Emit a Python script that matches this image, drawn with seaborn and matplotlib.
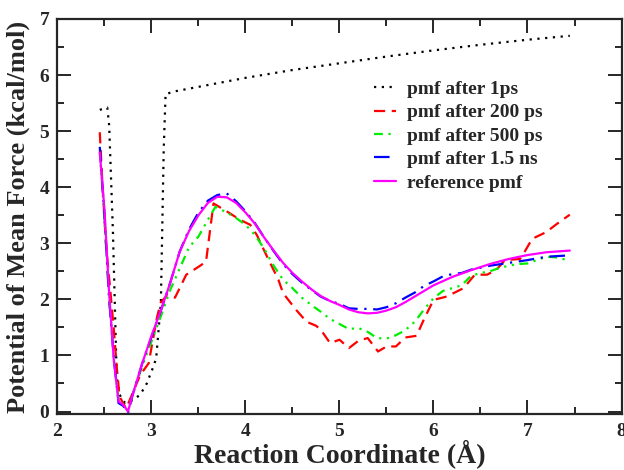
import numpy as np
import pandas as pd
import matplotlib
matplotlib.use("Agg")
import matplotlib.pyplot as plt
from matplotlib.ticker import MultipleLocator
import seaborn as sns

# pmf after 1 ps
x_1ps = [2.45, 2.53, 2.55, 2.59, 2.63, 2.66, 2.72, 2.8, 2.88, 2.95, 3.02, 3.05,
         3.1, 3.13, 3.15, 3.25, 3.5, 4.0, 4.5, 5.0, 5.5, 6.0, 6.5, 7.0, 7.45]
y_1ps = [5.38, 5.42, 5.1, 3.2, 0.62, 0.3, 0.15, 0.2, 0.3, 0.5, 0.8, 0.95,
         1.94, 4.66, 5.66, 5.71, 5.79, 5.95, 6.09, 6.21, 6.33, 6.44, 6.54, 6.63, 6.70]

# pmf after 200 ps
x_200ps = [2.45, 2.48, 2.52, 2.56, 2.6, 2.63, 2.66, 2.73, 2.8, 2.88, 2.97, 3.06,
           3.1, 3.17, 3.25, 3.37, 3.5, 3.58, 3.66, 3.8, 3.94, 4.05, 4.12, 4.23,
           4.35, 4.4, 4.54, 4.65, 4.75, 4.8, 4.9, 5.0, 5.1, 5.2, 5.3, 5.41, 5.5,
           5.6, 5.7, 5.82, 5.9, 6.0, 6.14, 6.32, 6.44, 6.57, 6.67, 6.76, 6.92,
           6.97, 7.05, 7.2, 7.3, 7.45]
y_200ps = [4.98, 4.0, 2.9, 2.2, 1.45, 0.8, 0.27, 0.05, 0.33, 0.65, 0.86, 1.69,
           1.95, 2.08, 2.03, 2.44, 2.58, 2.67, 3.71, 3.57, 3.42, 3.33, 3.15, 2.76,
           2.35, 2.11, 1.81, 1.6, 1.53, 1.46, 1.22, 1.28, 1.13, 1.26, 1.31, 1.07, 1.16,
           1.16, 1.32, 1.35, 1.65, 1.99, 2.05, 2.2, 2.44, 2.44, 2.53, 2.7, 2.72,
           2.85, 3.08, 3.2, 3.33, 3.51]

# pmf after 500 ps
x_500ps = [2.45, 2.5, 2.55, 2.6, 2.65, 2.7, 2.75, 2.8, 2.9, 3.0, 3.1, 3.2, 3.3,
           3.4, 3.5, 3.6, 3.68, 3.8, 3.9, 4.0, 4.1, 4.2, 4.3, 4.4, 4.5, 4.6, 4.7,
           4.8, 4.9, 5.0, 5.1, 5.2, 5.3, 5.4, 5.5, 5.6, 5.7, 5.8, 5.9, 6.0, 6.1,
           6.2, 6.3, 6.4, 6.5, 6.6, 6.7, 6.8, 6.9, 7.0, 7.1, 7.2, 7.3, 7.45]
y_500ps = [4.65, 3.4, 2.0, 0.95, 0.2, 0.12, 0.02, 0.3, 0.8, 1.25, 1.7, 2.17, 2.55,
           2.93, 3.12, 3.42, 3.65, 3.55, 3.45, 3.33, 3.15, 2.9, 2.6, 2.35, 2.2, 2.03, 1.9,
           1.78, 1.65, 1.56, 1.47, 1.49, 1.42, 1.31, 1.3, 1.36, 1.45, 1.6, 1.82, 2.02, 2.15,
           2.2, 2.25, 2.42, 2.47, 2.5, 2.56, 2.6, 2.63, 2.64, 2.7, 2.76, 2.75, 2.69]

# pmf after 1.5 ns
x_15ns = [2.45, 2.5, 2.55, 2.6, 2.65, 2.7, 2.75, 2.8, 2.9, 3.0, 3.1, 3.2, 3.3,
          3.4, 3.5, 3.6, 3.7, 3.8, 3.9, 4.0, 4.1, 4.2, 4.3, 4.4, 4.5, 4.6, 4.7,
          4.8, 4.9, 5.0, 5.1, 5.2, 5.3, 5.4, 5.5, 5.6, 5.7, 5.8, 5.9, 6.0, 6.1,
          6.2, 6.3, 6.4, 6.6, 6.8, 7.0, 7.2, 7.4]
y_15ns = [4.72, 3.5, 2.0, 0.95, 0.15, 0.1, -0.03, 0.3, 0.85, 1.33, 1.8, 2.3, 2.85,
          3.25, 3.55, 3.76, 3.86, 3.89, 3.75, 3.57, 3.36, 3.1, 2.86, 2.63, 2.45, 2.3, 2.17,
          2.05, 1.97, 1.92, 1.84, 1.83, 1.83, 1.82, 1.86, 1.93, 2.03, 2.12, 2.24, 2.32, 2.41,
          2.45, 2.47, 2.53, 2.6, 2.65, 2.7, 2.76, 2.78]

# reference pmf
x_ref = [2.45, 2.5, 2.55, 2.6, 2.65, 2.7, 2.75, 2.8, 2.9, 3.0, 3.1, 3.2, 3.3,
         3.4, 3.5, 3.6, 3.7, 3.8, 3.9, 4.0, 4.1, 4.2, 4.3, 4.4, 4.5, 4.6, 4.7,
         4.8, 4.9, 5.0, 5.1, 5.2, 5.3, 5.4, 5.5, 5.6, 5.7, 5.8, 5.9, 6.0, 6.2,
         6.4, 6.6, 6.8, 7.0, 7.2, 7.45]
y_ref = [4.62, 3.6, 2.1, 0.9, 0.18, 0.12, 0.0, 0.3, 0.85, 1.35, 1.8, 2.3, 2.85,
         3.22, 3.5, 3.72, 3.83, 3.82, 3.72, 3.55, 3.35, 3.1, 2.87, 2.65, 2.47, 2.32, 2.18,
         2.06, 1.97, 1.9, 1.82, 1.77, 1.75, 1.76, 1.8, 1.86, 1.95, 2.05, 2.15, 2.25, 2.4,
         2.52, 2.63, 2.72, 2.79, 2.84, 2.87]

labels = ["pmf after 1ps", "pmf after 200 ps", "pmf after 500 ps",
          "pmf after 1.5 ns", "reference pmf"]

sns.set_theme(style="ticks")
plt.rcParams.update({
    "font.family": ["Liberation Serif", "DejaVu Serif"],
    "font.weight": "bold",
    "axes.labelweight": "bold",
    "axes.linewidth": 1.6,
})

fig = plt.figure(figsize=(6.24, 4.70), dpi=100)
ax = fig.add_axes([0.0921, 0.1185, 0.9039, 0.8411])

series = [
    (x_1ps, y_1ps, "black", (0, (1, 2.5)), 1.6),
    (x_200ps, y_200ps, "#ff0000", (0, (5, 3)), 1.6),
    (x_500ps, y_500ps, "#00ee00", (0, (4, 2.5, 1, 2.5, 1, 2.5)), 1.6),
    (x_15ns, y_15ns, "#0000ff", (0, (7, 3, 1, 3)), 1.6),
    (x_ref, y_ref, "#ff00ff", "-", 1.6),
]
for (xs, ys, c, ls, lw), lab in zip(series, labels):
    sns.lineplot(x=xs, y=ys, ax=ax, color=c, linestyle=ls, linewidth=lw,
                 label=lab, sort=False, estimator=None)

ax.set_xlim(2, 8)
ax.set_ylim(-0.05, 7)
ax.xaxis.set_major_locator(MultipleLocator(1))
ax.xaxis.set_minor_locator(MultipleLocator(0.5))
ax.yaxis.set_major_locator(MultipleLocator(1))
ax.yaxis.set_minor_locator(MultipleLocator(0.5))
ax.tick_params(which="both", direction="in", top=True, right=True,
               labelsize=14, width=1.4, pad=6)
ax.tick_params(which="major", length=10)
ax.tick_params(which="minor", length=5)
for t in ax.get_xticklabels() + ax.get_yticklabels():
    t.set_fontweight("bold")

ax.set_xlabel("Reaction Coordinate (Å)", fontsize=20, fontweight="bold", labelpad=0)
ax.set_ylabel("Potential of Mean Force (kcal/mol)", fontsize=19, fontweight="bold", labelpad=7)

leg = ax.legend(loc="upper left", bbox_to_anchor=(0.561, 0.845), frameon=False,
                fontsize=14, handlelength=1.15, handletextpad=0.55,
                labelspacing=0.3, borderaxespad=0, borderpad=0)
for t in leg.get_texts():
    t.set_fontweight("bold")

fig.savefig("out.png", dpi=100)
